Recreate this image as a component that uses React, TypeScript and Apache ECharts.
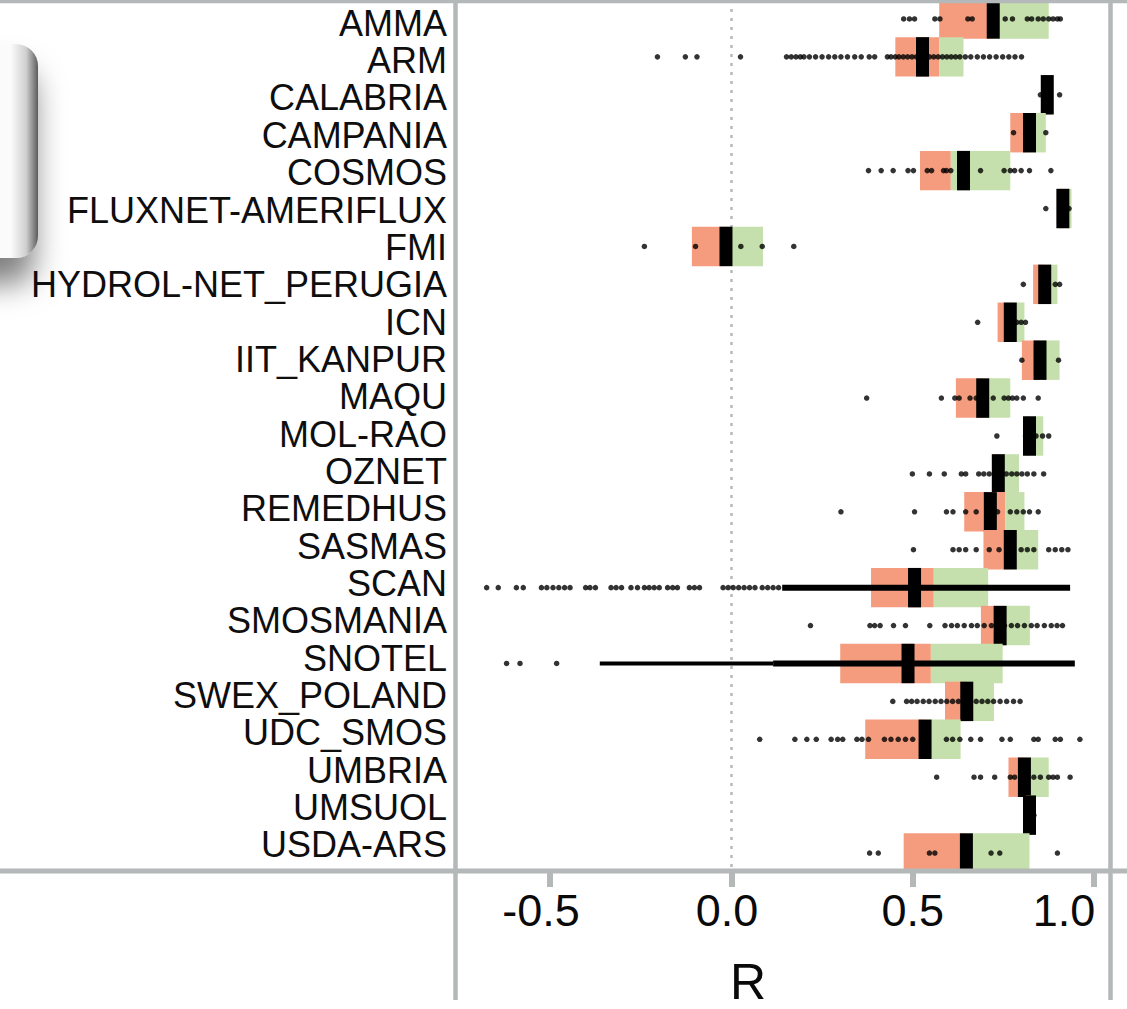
import React, { useEffect, useRef } from 'react';
import * as echarts from 'echarts';

const categories = [
  'AMMA', 'ARM', 'CALABRIA', 'CAMPANIA', 'COSMOS', 'FLUXNET-AMERIFLUX', 'FMI',
  'HYDROL-NET_PERUGIA', 'ICN', 'IIT_KANPUR', 'MAQU', 'MOL-RAO', 'OZNET', 'REMEDHUS',
  'SASMAS', 'SCAN', 'SMOSMANIA', 'SNOTEL', 'SWEX_POLAND', 'UDC_SMOS', 'UMBRIA',
  'UMSUOL', 'USDA-ARS',
];

// lower edge of the salmon box
const q1 = [0.573, 0.452, 0.858, 0.769, 0.52, 0.905, -0.109, 0.832, 0.734, 0.801, 0.619, 0.81, 0.725, 0.642, 0.695, 0.385, 0.688, 0.3, 0.589, 0.369, 0.764, 0.812, 0.475];
// where salmon turns to green
const split = [0.722, 0.573, 0.871, 0.822, 0.605, 0.914, -0.015, 0.864, 0.769, 0.851, 0.693, 0.822, 0.736, 0.755, 0.769, 0.558, 0.741, 0.55, 0.649, 0.534, 0.808, 0.822, 0.648];
// upper edge of the green box
const q3 = [0.875, 0.64, 0.884, 0.867, 0.769, 0.938, 0.087, 0.899, 0.808, 0.905, 0.769, 0.86, 0.793, 0.808, 0.846, 0.708, 0.823, 0.748, 0.724, 0.632, 0.875, 0.832, 0.822];
// black median bar
const median = [0.722, 0.527, 0.871, 0.822, 0.64, 0.914, -0.015, 0.864, 0.769, 0.851, 0.693, 0.822, 0.736, 0.714, 0.769, 0.505, 0.741, 0.487, 0.649, 0.534, 0.808, 0.822, 0.648];

// individual R values per network
const pointsAMMA = [0.475, 0.491, 0.505, 0.561, 0.575, 0.652, 0.664, 0.755, 0.775, 0.816, 0.828, 0.846, 0.86, 0.875, 0.887, 0.899, 0.907];
const pointsARM = [-0.204, -0.127, -0.095, 0.025, 0.152, 0.165, 0.178, 0.19, 0.2, 0.215, 0.232, 0.25, 0.268, 0.285, 0.302, 0.32, 0.34, 0.358, 0.38, 0.395, 0.43, 0.44, 0.452, 0.462, 0.474, 0.486, 0.498, 0.51, 0.522, 0.534, 0.546, 0.558, 0.57, 0.582, 0.594, 0.606, 0.618, 0.63, 0.645, 0.66, 0.678, 0.695, 0.712, 0.73, 0.748, 0.765, 0.782, 0.8];
const pointsCALABRIA = [0.852, 0.875, 0.905];
const pointsCAMPANIA = [0.778, 0.867];
const pointsCOSMOS = [0.378, 0.413, 0.446, 0.487, 0.502, 0.54, 0.552, 0.585, 0.593, 0.605, 0.687, 0.752, 0.769, 0.781, 0.799, 0.822, 0.881];
const pointsFLUXNET = [0.867, 0.931];
const pointsFMI = [-0.24, -0.099, 0.026, 0.085, 0.172];
const pointsHYDROL = [0.805, 0.893, 0.905];
const pointsICN = [0.679, 0.787, 0.799, 0.811];
const pointsIIT = [0.801, 0.902];
const pointsMAQU = [0.373, 0.579, 0.616, 0.628, 0.658, 0.675, 0.722, 0.752, 0.764, 0.775, 0.787, 0.805, 0.846];
const pointsMOLRAO = [0.732, 0.811, 0.84, 0.858, 0.875];
const pointsOZNET = [0.499, 0.546, 0.587, 0.634, 0.646, 0.682, 0.696, 0.711, 0.726, 0.741, 0.758, 0.773, 0.787, 0.801, 0.816, 0.834, 0.861];
const pointsREMEDHUS = [0.302, 0.505, 0.593, 0.611, 0.646, 0.675, 0.734, 0.769, 0.787, 0.805, 0.822, 0.846];
const pointsSASMAS = [0.502, 0.611, 0.628, 0.646, 0.675, 0.711, 0.738, 0.799, 0.816, 0.834, 0.875, 0.893, 0.911, 0.928];
const pointsSCAN = [-0.675, -0.643, -0.593, -0.574, -0.524, -0.509, -0.492, -0.476, -0.46, -0.445, -0.402, -0.39, -0.375, -0.332, -0.318, -0.303, -0.277, -0.259, -0.24, -0.227, -0.213, -0.199, -0.176, -0.162, -0.149, -0.116, -0.102, -0.088, -0.023, -0.009, 0.005, 0.02, 0.035, 0.05, 0.065, 0.085, 0.1, 0.115, 0.13];
const pointsSMOSMANIA = [0.218, 0.382, 0.395, 0.41, 0.447, 0.48, 0.547, 0.589, 0.607, 0.623, 0.642, 0.662, 0.678, 0.697, 0.717, 0.734, 0.753, 0.772, 0.789, 0.808, 0.827, 0.843, 0.863, 0.882, 0.898, 0.913];
const pointsSNOTEL = [-0.62, -0.583, -0.482];
const pointsSWEX = [0.445, 0.483, 0.497, 0.512, 0.529, 0.545, 0.562, 0.578, 0.594, 0.61, 0.626, 0.643, 0.659, 0.675, 0.691, 0.707, 0.723, 0.741, 0.759, 0.778, 0.796];
const pointsUDC = [0.078, 0.175, 0.208, 0.234, 0.275, 0.293, 0.307, 0.346, 0.36, 0.378, 0.422, 0.44, 0.46, 0.48, 0.5, 0.593, 0.61, 0.63, 0.66, 0.687, 0.746, 0.769, 0.834, 0.846, 0.893, 0.907, 0.961];
const pointsUMBRIA = [0.566, 0.669, 0.687, 0.726, 0.769, 0.781, 0.834, 0.852, 0.875, 0.887, 0.899, 0.934];
const pointsUMSUOL = [0.834];
const pointsUSDA = [0.381, 0.405, 0.546, 0.561, 0.716, 0.74, 0.899];

const pointsByCategory = [
  pointsAMMA, pointsARM, pointsCALABRIA, pointsCAMPANIA, pointsCOSMOS, pointsFLUXNET, pointsFMI,
  pointsHYDROL, pointsICN, pointsIIT, pointsMAQU, pointsMOLRAO, pointsOZNET, pointsREMEDHUS,
  pointsSASMAS, pointsSCAN, pointsSMOSMANIA, pointsSNOTEL, pointsSWEX, pointsUDC, pointsUMBRIA,
  pointsUMSUOL, pointsUSDA,
];

// ranges where points are so dense they merge into a bar: [network, from, to]
const denseCore: [string, number, number][] = [['SCAN', 0.14, 0.934], ['SNOTEL', 0.115, 0.947]];
const denseTail: [string, number, number][] = [['SNOTEL', -0.363, 0.115]];

const xTicks = [-0.5, 0, 0.5, 1.0];
const xTickLabels = ['-0.5', '0.0', '0.5', '1.0'];

const FRAME = '#b4b8b8';
const SALMON = '#f59c7f';
const GREEN = '#c5e0ac';
const FONT = "'Liberation Sans', Arial, Helvetica, sans-serif";

export default function App() {
  const ref = useRef<HTMLDivElement>(null);

  useEffect(() => {
    if (!ref.current) return;
    const chart = echarts.init(ref.current, undefined, { renderer: 'svg' });

    const boxData = categories.map((_, i) => [q1[i], i, split[i], q3[i], median[i]]);
    const scatterData: number[][] = [];
    pointsByCategory.forEach((arr, i) => arr.forEach((v) => scatterData.push([v, i])));
    const coreData = denseCore.map(([c, a, b]) => [a, categories.indexOf(c), b]);
    const tailData = denseTail.map(([c, a, b]) => [a, categories.indexOf(c), b]);

    const segRender = (width: number) => (params: any, api: any) => {
      const p1 = api.coord([api.value(0), api.value(1)]);
      const p2 = api.coord([api.value(2), api.value(1)]);
      return {
        type: 'line',
        shape: { x1: p1[0], y1: p1[1], x2: p2[0], y2: p2[1] },
        style: { stroke: '#000', lineWidth: width },
      };
    };

    const labelStyleKey = ['a', 'b', 'c', 'd'];
    const richBase = { fontSize: 45, fontFamily: FONT, color: '#0a0a0a' };

    const option: any = {
      animation: false,
      backgroundColor: '#fff',
      grid: [
        { left: 458, width: 652, top: 0, height: 872, containLabel: false, outerBoundsMode: 'none' },
        { left: 458, width: 652, top: 4.6, height: 859, containLabel: false, outerBoundsMode: 'none' },
      ],
      xAxis: [
        {
          type: 'value',
          gridIndex: 0,
          min: -0.754,
          max: 1.044,
          splitLine: { show: false },
          axisLine: { show: false },
          axisTick: {
            show: true,
            customValues: xTicks,
            length: 15,
            lineStyle: { color: FRAME, width: 6 },
          },
          axisLabel: {
            show: true,
            customValues: xTicks,
            margin: 16,
            formatter: (v: number) => {
              const k = xTicks.findIndex((t) => Math.abs(t - v) < 1e-6);
              if (k < 0) return '';
              return `{${labelStyleKey[k]}|${xTickLabels[k]}}`;
            },
            rich: {
              a: { ...richBase, padding: [0, 18, 0, 0] },
              b: { ...richBase, padding: [0, 9, 0, 0] },
              c: { ...richBase },
              d: { ...richBase, padding: [0, 60, 0, 0] },
            },
          },
          name: 'R',
          nameLocation: 'middle',
          nameGap: 85,
          nameTextStyle: {
            fontSize: 50,
            fontFamily: FONT,
            color: '#0a0a0a',
            padding: [0, 72, 0, 0],
          },
        },
        { type: 'value', gridIndex: 1, show: false, min: -0.754, max: 1.044 },
      ],
      yAxis: [
        {
          type: 'category',
          gridIndex: 0,
          data: categories,
          inverse: true,
          axisLine: { show: false },
          axisTick: { show: false },
          axisLabel: { show: false },
          splitLine: { show: false },
        },
        {
          type: 'category',
          gridIndex: 1,
          data: categories,
          inverse: true,
          axisLine: { show: false },
          axisTick: { show: false },
          splitLine: { show: false },
          axisLabel: {
            show: true,
            margin: 11,
            fontSize: 36,
            fontFamily: FONT,
            color: '#0e0e0e',
            interval: 0,
          },
        },
      ],
      series: [
        {
          type: 'custom',
          name: 'boxes',
          xAxisIndex: 0,
          yAxisIndex: 0,
          encode: { x: [0, 2, 3, 4], y: 1 },
          data: boxData,
          z: 3,
          renderItem: (params: any, api: any) => {
            const c = api.value(1);
            const [x1, y] = api.coord([api.value(0), c]);
            const xs = api.coord([api.value(2), c])[0];
            const x3 = api.coord([api.value(3), c])[0];
            const xm = api.coord([api.value(4), c])[0];
            const h = api.size([0, 1])[1] * 1.04;
            return {
              type: 'group',
              children: [
                { type: 'rect', shape: { x: x1, y: y - h / 2, width: Math.max(0, xs - x1), height: h }, style: { fill: SALMON } },
                { type: 'rect', shape: { x: xs, y: y - h / 2, width: Math.max(0, x3 - xs), height: h }, style: { fill: GREEN } },
                { type: 'rect', shape: { x: xm - 6.5, y: y - h / 2, width: 13, height: h }, style: { fill: '#000' } },
              ],
            };
          },
        },
        {
          type: 'custom',
          name: 'denseTail',
          xAxisIndex: 0,
          yAxisIndex: 0,
          encode: { x: [0, 2], y: 1 },
          data: tailData,
          z: 4,
          renderItem: segRender(4),
        },
        {
          type: 'custom',
          name: 'denseCore',
          xAxisIndex: 0,
          yAxisIndex: 0,
          encode: { x: [0, 2], y: 1 },
          data: coreData,
          z: 4,
          renderItem: segRender(6),
        },
        {
          type: 'scatter',
          name: 'points',
          xAxisIndex: 0,
          yAxisIndex: 0,
          data: scatterData,
          symbol: 'circle',
          symbolSize: 5.5,
          itemStyle: { color: '#000' },
          z: 5,
          markLine: {
            silent: true,
            symbol: ['none', 'none'],
            label: { show: false },
            z: 1,
            lineStyle: { type: [3, 6], color: '#b9b9b9', width: 2.5 },
            data: [{ xAxis: 0 }],
          },
        },
      ],
      graphic: [
        {
          type: 'rect',
          z: 90,
          shape: { x: -60, y: 44, width: 98, height: 214, r: 22 },
          style: {
            fill: {
              type: 'linear', x: 0, y: 0, x2: 1, y2: 0,
              colorStops: [
                { offset: 0, color: '#ffffff' },
                { offset: 0.72, color: '#fbfbfb' },
                { offset: 0.88, color: '#cfcfcf' },
                { offset: 1, color: '#5c5c5c' },
              ],
            },
            shadowBlur: 30,
            shadowColor: 'rgba(0,0,0,0.5)',
            shadowOffsetX: -4,
            shadowOffsetY: 26,
          },
        },
        { type: 'line', z: 100, shape: { x1: 0, y1: 1.5, x2: 1127, y2: 1.5 }, style: { stroke: FRAME, lineWidth: 3.5 } },
        { type: 'line', z: 100, shape: { x1: 0, y1: 871, x2: 1127, y2: 871 }, style: { stroke: FRAME, lineWidth: 5 } },
        { type: 'line', z: 100, shape: { x1: 455.5, y1: 0, x2: 455.5, y2: 1000 }, style: { stroke: FRAME, lineWidth: 4.5 } },
        { type: 'line', z: 100, shape: { x1: 1110.5, y1: 0, x2: 1110.5, y2: 1000 }, style: { stroke: FRAME, lineWidth: 4.5 } },
      ],
    };

    chart.setOption(option);
    return () => chart.dispose();
  }, []);

  return (
    <div
      ref={ref}
      style={{ position: 'fixed', left: 0, top: 0, width: 1127, height: 1009, background: '#fff' }}
    />
  );
}
